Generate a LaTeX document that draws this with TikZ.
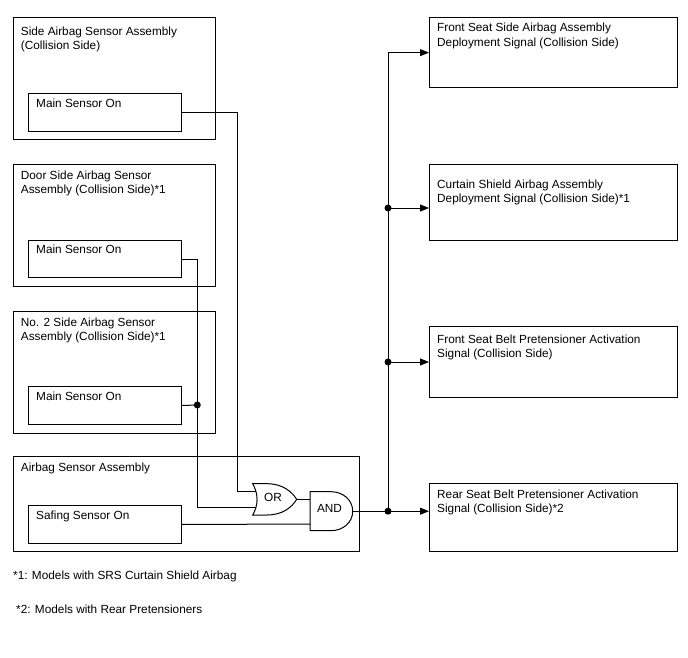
\documentclass[tikz,border=0pt]{standalone}
\usepackage{fontspec}
\setmainfont{Liberation Sans}
\usetikzlibrary{calc}
\usetikzlibrary{arrows.meta}

\tikzset{
  outerbox/.style={draw, line width=1pt, anchor=north west, inner sep=0pt},
  innerbox/.style={draw, line width=1pt, anchor=north west, inner sep=0pt, minimum width=152.5pt},
  sigbox/.style={draw, line width=1.2pt, anchor=north west, inner sep=0pt, minimum width=248pt},
  lbl/.style={anchor=north west, inner sep=0pt, align=left, font=\fontsize{11.8}{14.6}\selectfont},
  wire/.style={line width=1pt},
  sig/.style={wire, -{Triangle[length=9pt,width=7pt]}},
  gate/.style={line width=1pt},
  dot/.style={circle, fill, inner sep=0pt, minimum size=7pt}
}

\begin{document}
\begin{tikzpicture}[x=1pt, y=-1pt]
    \useasboundingbox (0,0) rectangle (688,658);

    % sensor side
    \node[outerbox, minimum width=202pt, minimum height=122pt] (sab) at (12.7,17.3) {};
    \node[outerbox, minimum width=202pt, minimum height=122pt] (dsab) at (12.7,164) {};
    \node[outerbox, minimum width=202pt, minimum height=122pt] (nsab) at (12.7,311) {};
    \node[outerbox, minimum width=346.5pt, minimum height=95pt] (asab) at (12.7,456) {};
    \node[lbl] at (20.7,26.5) {Side Airbag Sensor Assembly\\(Collision Side)};
    \node[lbl] at (20.7,170.5) {Door Side Airbag Sensor\\Assembly (Collision Side)*1};
    \node[lbl] at (20.7,317.5) {No. 2 Side Airbag Sensor\\Assembly (Collision Side)*1};
    \node[lbl] at (20.7,462.5) {Airbag Sensor Assembly};

    \node[innerbox, minimum height=38pt] (ms1) at (28.3,93) {};
    \node[innerbox, minimum height=37pt] (ms2) at (28.3,240) {};
    \node[innerbox, minimum height=38pt] (ms3) at (28.3,386) {};
    \node[innerbox, minimum height=38pt] (sfs) at (28.3,505) {};
    \node[lbl] at (36,98.5) {Main Sensor On};
    \node[lbl] at (36,245) {Main Sensor On};
    \node[lbl] at (36,392) {Main Sensor On};
    \node[lbl] at (36,510.5) {Safing Sensor On};

    % deployment side
    \node[sigbox, minimum height=69.5pt] (fsab) at (429,17.3) {};
    \node[sigbox, minimum height=76pt] (csab) at (429,164) {};
    \node[sigbox, minimum height=71pt] (fsbp) at (429,326) {};
    \node[sigbox, minimum height=68.3pt] (rsbp) at (429,482.7) {};
    \node[lbl] at (437,23) {Front Seat Side Airbag Assembly\\Deployment Signal (Collision Side)};
    \node[lbl] at (437,179.5) {Curtain Shield Airbag Assembly\\Deployment Signal (Collision Side)*1};
    \node[lbl] at (437,334.5) {Front Seat Belt Pretensioner Activation\\Signal (Collision Side)};
    \node[lbl] at (437,489.5) {Rear Seat Belt Pretensioner Activation\\Signal (Collision Side)*2};

    % gates
    \draw[gate] (252.7,483.7) -- (267,483.7) .. controls (283,483.7) and (292,492) .. (296.7,499.3)
        .. controls (292,507) and (283,515) .. (267,515) -- (252.7,515)
        .. controls (258.5,505) and (258.5,494) .. (252.7,483.7) -- cycle;
    \draw[gate] (310,491.7) -- (331,491.7) .. controls (343,491.7) and (352.7,500) .. (352.7,511.2)
        .. controls (352.7,522.4) and (343,530.7) .. (331,530.7) -- (310,530.7) -- cycle;
    \node[lbl, anchor=center] (orG) at (273,497.5) {OR};
    \node[lbl, anchor=center] (andG) at (329.5,508.5) {AND};
    \coordinate (orA) at (256,491);
    \coordinate (orB) at (256,507.7);
    \coordinate (orOut) at (296.7,499.3);
    \coordinate (andA) at (310,499.3);
    \coordinate (andB) at (310,524);
    \coordinate (andOut) at (352.7,511.2);

    % wiring
    \draw[wire] (ms1.east) -| (237.7,491) -- (orA);
    \draw[wire] (ms2.east) -| (197.3,507.7) -- (orB);
    \coordinate (j3) at (197.3,405);
    \draw[wire] (ms3.east) -- (j3);
    \node[dot] at (j3) {};
    \draw[wire] (sfs.east) -- (andB);
    \draw[wire] (orOut) -- (andA);

    \coordinate (b1) at (388,511.2);
    \coordinate (b2) at (388,208);
    \coordinate (b3) at (388,362);
    \draw[sig] (andOut) -- (andOut -| rsbp.west);
    \draw[sig] (b1) |- (fsab.west);
    \draw[sig] (b2) -- (b2 -| csab.west);
    \draw[sig] (b3) -- (b3 -| fsbp.west);
    \foreach \b in {b1,b2,b3}
        \node[dot] at (\b) {};

    % notes
    \node[lbl] (n1) at (13,571) {*1: Models with SRS Curtain Shield Airbag};
    \node[lbl] (n2) at (16,605) {*2: Models with Rear Pretensioners};
\end{tikzpicture}
\end{document}
